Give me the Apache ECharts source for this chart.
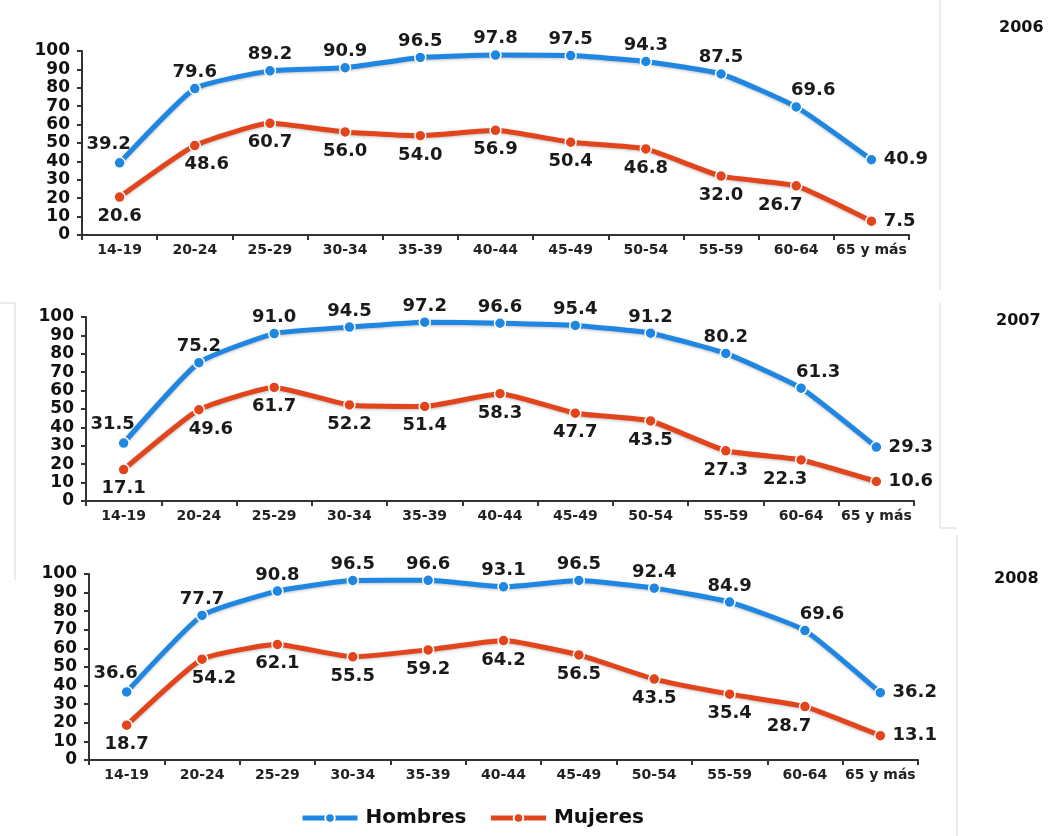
<!DOCTYPE html>
<html><head><meta charset="utf-8">
<script src="https://cdn.jsdelivr.net/npm/echarts@6/dist/echarts.min.js"></script>
<style>html,body{margin:0;padding:0;background:#fff}#c{width:1050px;height:836px}</style>
</head><body><div id="c"></div>
<script>
var categories = ['14-19','20-24','25-29','30-34','35-39','40-44','45-49','50-54','55-59','60-64','65 y más'];
var years = ['2006','2007','2008'];
var hombres2006 = [39.2,79.6,89.2,90.9,96.5,97.8,97.5,94.3,87.5,69.6,40.9];
var mujeres2006 = [20.6,48.6,60.7,56.0,54.0,56.9,50.4,46.8,32.0,26.7,7.5];
var hombres2007 = [31.5,75.2,91.0,94.5,97.2,96.6,95.4,91.2,80.2,61.3,29.3];
var mujeres2007 = [17.1,49.6,61.7,52.2,51.4,58.3,47.7,43.5,27.3,22.3,10.6];
var hombres2008 = [36.6,77.7,90.8,96.5,96.6,93.1,96.5,92.4,84.9,69.6,36.2];
var mujeres2008 = [18.7,54.2,62.1,55.5,59.2,64.2,56.5,43.5,35.4,28.7,13.1];
var yTicks = [0,10,20,30,40,50,60,70,80,90,100];

var hombres = [hombres2006, hombres2007, hombres2008];
var mujeres = [mujeres2006, mujeres2007, mujeres2008];
var BLUE = '#1f86e2', RED = '#e2441c';
var FONT = '"DejaVu Sans", sans-serif';
var grids = [
  {left: 82, right: 141, top: 51, height: 184},
  {left: 86, right: 136, top: 317, height: 184},
  {left: 89, right: 132, top: 574, height: 186}
];

function fmt(v){ return v.toFixed(1); }
// horizontal shift of a label via asymmetric padding (shift > 0 moves right)
function shiftPad(dx){ return dx >= 0 ? [0, 0, 0, 2*dx] : [0, -2*dx, 0, 0]; }
function buildData(vals, isBlue){
  var n = vals.length;
  return vals.map(function(v,i){
    var lab;
    if (i === n-1) lab = {position: 'right', distance: 6, offset: [0, -7]};
    else if (isBlue) {
      var dx = i === 0 ? -11 : (i === n-2 ? 17 : 0);
      lab = {position: 'top', distance: i === 0 ? 3 : 1, padding: shiftPad(dx)};
    } else {
      var dxr = i === 1 ? 12 : (i === n-2 ? -16 : 0);
      lab = {position: 'bottom', distance: 4, padding: shiftPad(dxr)};
    }
    return {value: v, label: lab};
  });
}

var xAxes = [], yAxes = [], series = [];
grids.forEach(function(g, k){
  xAxes.push({
    type: 'category', gridIndex: k, data: categories, boundaryGap: true,
    axisLine: {lineStyle: {color: '#333', width: 2}},
    axisTick: {show: true, length: 5, lineStyle: {color: '#333', width: 2}},
    axisLabel: {color: '#222', fontWeight: 'bold', fontSize: 14, fontFamily: FONT, margin: 8, interval: 0}
  });
  yAxes.push({
    type: 'value', gridIndex: k, min: yTicks[0], max: yTicks[yTicks.length-1], interval: yTicks[1]-yTicks[0],
    axisLine: {show: true, lineStyle: {color: '#333', width: 2}},
    axisTick: {show: true, length: 5, lineStyle: {color: '#333', width: 2}},
    splitLine: {show: false},
    axisLabel: {color: '#111', fontWeight: 'bold', fontSize: 17, fontFamily: FONT, margin: 12}
  });
  [[hombres[k], 'Hombres', BLUE, true], [mujeres[k], 'Mujeres', RED, false]].forEach(function(s){
    series.push({
      type: 'line', name: s[1], xAxisIndex: k, yAxisIndex: k,
      data: buildData(s[0], s[3]), smooth: 0.15,
      symbol: 'circle', symbolSize: 11,
      itemStyle: {color: s[2], borderColor: '#fff', borderWidth: 1.5},
      lineStyle: {color: s[2], width: 5, shadowColor: 'rgba(0,0,0,0.25)', shadowBlur: 3, shadowOffsetY: 1},
      label: {show: true, formatter: function(p){ return fmt(p.value); }, color: '#1a1a1a', fontWeight: 'bold', fontSize: 18, fontFamily: FONT},
      labelLayout: {hideOverlap: false},
      z: s[3] ? 3 : 2
    });
  });
});

var graphics = [];
var yearPos = [[999, 20], [996, 313], [994, 571]];
years.forEach(function(y, k){
  graphics.push({type: 'text', left: yearPos[k][0], top: yearPos[k][1],
    style: {text: y, fill: '#111', font: 'bold 16px "DejaVu Sans", sans-serif'}});
});
var lineStyle = {stroke: '#d8d8d8', lineWidth: 1};
[[940,0,940,290],[0,303,15,303],[15,303,15,530],[940,303,940,528],[940,528,957,528],[15,530,15,580],[957,535,957,836]].forEach(function(l){
  graphics.push({type: 'line', shape: {x1: l[0], y1: l[1], x2: l[2], y2: l[3]}, style: lineStyle, silent: true});
});

var chart = echarts.init(document.getElementById('c'), null, {renderer: 'canvas'});
chart.setOption({
  backgroundColor: '#fff',
  animation: false,
  grid: grids,
  xAxis: xAxes,
  yAxis: yAxes,
  series: series,
  legend: {
    data: ['Hombres', 'Mujeres'], left: 295, top: 803, itemWidth: 55, itemHeight: 12, itemGap: 22,
    lineStyle: {width: 5},
    textStyle: {color: '#111', fontWeight: 'bold', fontSize: 20, fontFamily: FONT, padding: [0, 0, 0, 3]}
  },
  graphic: graphics
});
</script></body></html>
